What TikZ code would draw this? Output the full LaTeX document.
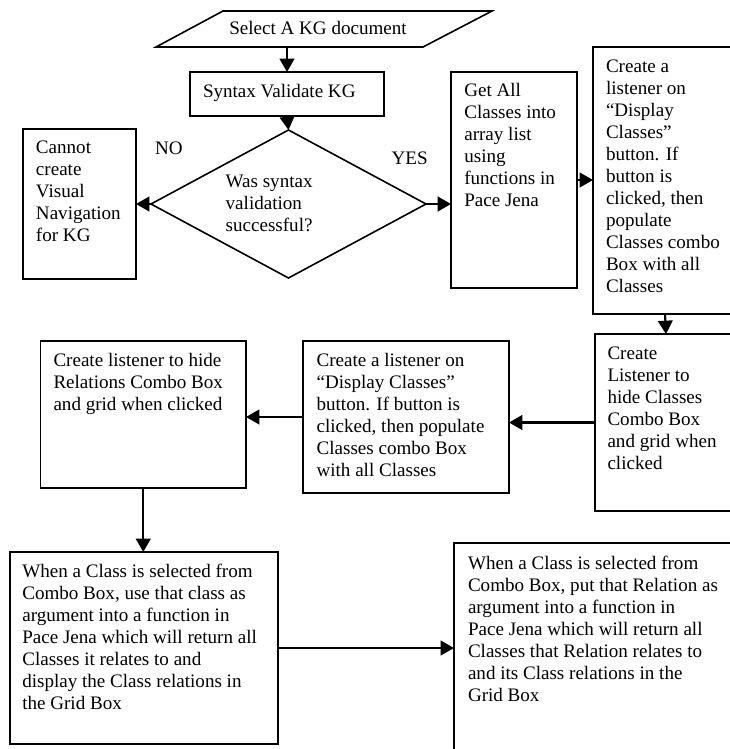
\documentclass[tikz,border=0pt]{standalone}
\usepackage{fontspec}
\setmainfont{Liberation Serif}
\usetikzlibrary{arrows.meta,shapes.geometric,fit,calc}
\tikzset{
  box/.style={draw, line width=1.2pt, inner sep=0pt, outer sep=0pt, rectangle},
  txt/.style={inner sep=0pt, outer sep=0pt, align=left, anchor=north west, font=\fontsize{14.3}{16.5}\selectfont},
  lbl/.style={inner sep=0pt, outer sep=0pt, anchor=base west, font=\fontsize{14.3}{16.5}\selectfont},
  arr/.style={line width=1.6pt, -{Triangle[length=10pt,width=11pt]}},
}
\begin{document}
\begin{tikzpicture}[x=0.75pt,y=-0.75pt]
\useasboundingbox (0,0) rectangle (730,749);
\clip (0,0) rectangle (730,749);
% input parallelogram
\node[inner sep=0pt, outer sep=0pt, fit={(156,11)(492,47)}] (sel) {};
\draw[line width=1.2pt] (156,47) -- (223,11) -- (492,11) -- (423,47) -- cycle;
\node[lbl, anchor=base] (seltxt) at (318,35) {Select A KG document};
% syntax box
\node[box, fit={(190,72)(384,116)}] (syn) {};
\node[lbl] (syntxt) at (203,97.3) {Syntax Validate KG};
% decision
\node[draw, line width=1.2pt, diamond, inner sep=0pt, outer sep=0pt, minimum width=206.25pt, minimum height=111pt] (dia) at (288.5,204) {};
\node[txt] (diatxt) at (225.7,175.3) {Was syntax\\validation\\successful?};
% cannot
\node[box, fit={(23,129)(136,279)}] (cn) {};
\node[txt] (cntxt) at (36,141) {Cannot\\create\\Visual\\Navigation\\for KG};
\node[lbl] (no) at (155,154) {NO};
\node[lbl] (yes) at (391.7,164) {YES};
% get all
\node[box, fit={(451,72)(577,288)}] (get) {};
\node[txt] (gettxt) at (464.3,83.7) {Get All\\Classes into\\array list\\using\\functions in\\Pace Jena};
% top right
\node[box, fit={(593,47)(745,314)}] (tr) {};
\node[txt] (trtxt) at (606,59.7) {Create a\\listener on\\“Display\\Classes”\\button. If\\button is\\clicked, then\\populate\\Classes combo\\Box with all\\Classes};
% right middle
\node[box, fit={(595,334)(745,511)}] (rm) {};
\node[txt] (rmtxt) at (607.5,347) {Create\\Listener to\\hide Classes\\Combo Box\\and grid when\\clicked};
% middle
\node[box, fit={(303,341)(509,493)}] (mid) {};
\node[txt] (midtxt) at (316.6,353.7) {Create a listener on\\“Display Classes”\\button. If button is\\clicked, then populate\\Classes combo Box\\with all Classes};
% left
\node[box, fit={(40.5,341)(246,488)}] (lb) {};
\node[txt] (lbtxt) at (53.5,353.7) {Create listener to hide\\Relations Combo Box\\and grid when clicked};
% bottom left
\node[box, fit={(10,552)(278,744)}] (bl) {};
\node[txt] (bltxt) at (22.3,564) {When a Class is selected from\\Combo Box, use that class as\\argument into a function in\\Pace Jena which will return all\\Classes it relates to and\\display the Class relations in\\the Grid Box};
% bottom right
\node[box, fit={(454,543)(745,770)}] (br) {};
\node[txt] (brtxt) at (468,556) {When a Class is selected from\\Combo Box, put that Relation as\\argument into a function in\\Pace Jena which will return all\\Classes that Relation relates to\\and its Class relations in the\\Grid Box};
% connectors
\draw[arr] (syn.north |- sel.south) -- (syn.north);
\draw[arr] (syn.south) -- (dia.north);
\draw[arr] (dia.west) -- (dia.west -| cn.east);
\draw[arr] (dia.east) -- (dia.east -| get.west);
\draw[arr] (get.east) -- (get.east -| tr.west);
\draw[arr] ([xshift=-3pt]tr.south) -- ([xshift=-3pt]rm.north);
\draw[arr] (rm.west) -- (rm.west -| mid.east);
\draw[arr] (mid.west) -- (mid.west -| lb.east);
\draw[arr] (lb.south) -- (lb.south |- bl.north);
\draw[arr] (bl.east) -- (bl.east -| br.west);
\end{tikzpicture}
\end{document}
